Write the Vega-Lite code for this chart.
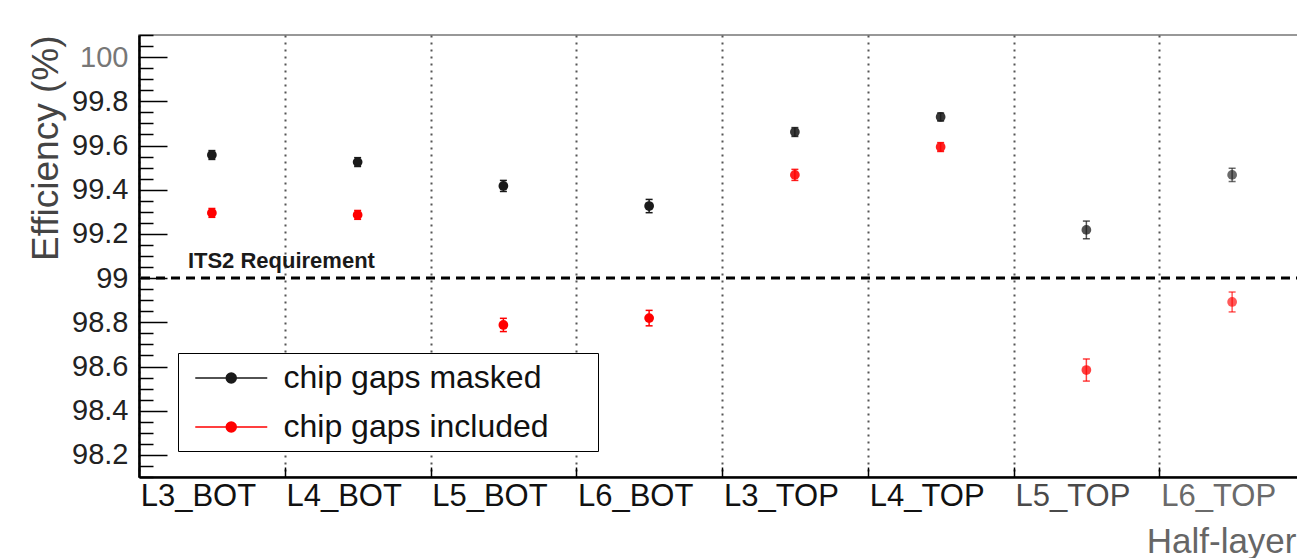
{
  "$schema": "https://vega.github.io/schema/vega-lite/v6.json",
  "width": 1166,
  "height": 442,
  "autosize": {"type": "none"},
  "padding": {"left": 139, "top": 35, "right": -8, "bottom": 81},
  "background": "#ffffff",
  "config": {
    "font": "Liberation Sans",
    "view": {"stroke": "#777777", "strokeWidth": 1.5}
  },
  "datasets": {
    "eff": [
      {"layer": "L3_BOT", "series": "chip gaps masked", "eff": 99.557, "err": 0.02},
      {"layer": "L4_BOT", "series": "chip gaps masked", "eff": 99.525, "err": 0.02},
      {"layer": "L5_BOT", "series": "chip gaps masked", "eff": 99.417, "err": 0.025},
      {"layer": "L6_BOT", "series": "chip gaps masked", "eff": 99.326, "err": 0.03},
      {"layer": "L3_TOP", "series": "chip gaps masked", "eff": 99.661, "err": 0.02},
      {"layer": "L4_TOP", "series": "chip gaps masked", "eff": 99.729, "err": 0.018},
      {"layer": "L5_TOP", "series": "chip gaps masked", "eff": 99.218, "err": 0.04},
      {"layer": "L6_TOP", "series": "chip gaps masked", "eff": 99.467, "err": 0.03},
      {"layer": "L3_BOT", "series": "chip gaps included", "eff": 99.295, "err": 0.02},
      {"layer": "L4_BOT", "series": "chip gaps included", "eff": 99.286, "err": 0.02},
      {"layer": "L5_BOT", "series": "chip gaps included", "eff": 98.788, "err": 0.03},
      {"layer": "L6_BOT", "series": "chip gaps included", "eff": 98.819, "err": 0.035},
      {"layer": "L3_TOP", "series": "chip gaps included", "eff": 99.467, "err": 0.025},
      {"layer": "L4_TOP", "series": "chip gaps included", "eff": 99.593, "err": 0.02},
      {"layer": "L5_TOP", "series": "chip gaps included", "eff": 98.584, "err": 0.05},
      {"layer": "L6_TOP", "series": "chip gaps included", "eff": 98.892, "err": 0.045}
    ],
    "req": [
      {"layer": "L3_BOT", "eff": 99, "label": "ITS2 Requirement"}
    ]
  },
  "layer": [
    {
      "data": {"name": "eff"},
      "encoding": {
        "x": {
          "field": "layer",
          "type": "nominal",
          "scale": {
            "domain": ["L3_BOT", "L4_BOT", "L5_BOT", "L6_BOT", "L3_TOP", "L4_TOP", "L5_TOP", "L6_TOP"],
            "paddingInner": 0,
            "paddingOuter": 0
          },
          "axis": {
            "title": "Half-layer",
            "titleFontSize": 35,
            "titleFontWeight": "normal",
            "titleColor": "#666666",
            "titleAnchor": "end",
            "titleAlign": "right",
            "titleBaseline": "alphabetic",
            "titleX": 1157,
            "titleY": 75,
            "labelFontSize": 31,
            "labelAngle": 0,
            "labelPadding": 14,
            "labelOffset": -14,
            "labelColor": {"condition": [
              {"test": "datum.value == 'L6_TOP'", "value": "#6a6a6a"},
              {"test": "datum.value == 'L5_TOP'", "value": "#4a4a4a"}
            ], "value": "#111111"},
            "tickBand": "extent",
            "tickSize": -10,
            "tickWidth": 1.5,
            "tickColor": "#000000",
            "grid": true,
            "gridDash": [2, 5],
            "gridColor": "#555555",
            "gridWidth": 2,
            "domainColor": "#000000",
            "domainWidth": 2.5
          }
        },
        "y": {
          "field": "eff",
          "type": "quantitative",
          "scale": {"domain": [98.1, 100.1], "nice": false, "zero": false},
          "axis": {
            "title": "Efficiency (%)",
            "titleFontSize": 37,
            "titleFontWeight": "normal",
            "titleColor": "#444444",
            "titleAnchor": "end",
            "titleAlign": "right",
            "titleBaseline": "alphabetic",
            "titleAngle": -90,
            "titleX": -82,
            "titleY": 0,
            "tickCount": 100,
            "values": [98.1, 98.15, 98.2, 98.25, 98.3, 98.35, 98.4, 98.45, 98.5, 98.55, 98.6, 98.65, 98.7, 98.75, 98.8, 98.85, 98.9, 98.95, 99, 99.05, 99.1, 99.15, 99.2, 99.25, 99.3, 99.35, 99.4, 99.45, 99.5, 99.55, 99.6, 99.65, 99.7, 99.75, 99.8, 99.85, 99.9, 99.95, 100, 100.05, 100.1],
            "labelExpr": "abs(datum.value*5 - round(datum.value*5)) < 0.01 ? toString(round(datum.value*10)/10) : ''",
            "labelFontSize": 29,
            "labelColor": {"condition": {"test": "datum.value > 99.9", "value": "#777777"}, "value": "#222222"},
            "labelPadding": 39,
            "labelOverlap": false,
            "tickSize": {"condition": {"test": "abs(datum.value*5 - round(datum.value*5)) < 0.01", "value": -28}, "value": -14},
            "tickWidth": 1.5,
            "tickColor": "#000000",
            "domainColor": "#000000",
            "domainWidth": 2.5,
            "grid": false
          }
        }
      },
      "layer": [
        {
          "mark": {"type": "errorbar", "thickness": 1.5, "ticks": {"size": 7, "thickness": 1.5}},
          "encoding": {
            "yError": {"field": "err"},
            "color": {
              "field": "series",
              "type": "nominal",
              "scale": {"domain": ["chip gaps masked", "chip gaps included"], "range": ["#1a1a1a", "#ff0000"]}
            },
            "opacity": {"condition": [
              {"test": "datum.layer == 'L6_TOP'", "value": 0.65},
              {"test": "datum.layer == 'L5_TOP'", "value": 0.75},
              {"test": "datum.layer == 'L4_TOP' || datum.layer == 'L3_TOP'", "value": 0.88}
            ], "value": 1}
          }
        },
        {
          "mark": {"type": "point", "filled": true, "size": 95, "strokeWidth": 1},
          "encoding": {
            "color": {
              "field": "series",
              "type": "nominal",
              "scale": {"domain": ["chip gaps masked", "chip gaps included"], "range": ["#1a1a1a", "#ff0000"]},
              "legend": {
                "title": null,
                "orient": "none",
                "legendX": 39,
                "legendY": 318,
                "strokeColor": "#000000",
                "fillColor": "#ffffff",
                "padding": 8,
                "symbolType": "M-0.484,0H4.016M2.078,0A0.3125,0.3125,0,1,1,1.453,0A0.3125,0.3125,0,1,1,2.078,0ZM24,0",
                "symbolSize": 1024,
                "symbolStrokeWidth": 1.5,
                "labelFontSize": 32,
                "labelOffset": 63.5,
                "labelColor": "#111111",
                "labelLimit": 0,
                "rowPadding": 16,
                "encode": {
                  "symbols": {
                    "update": {
                      "stroke": {"scale": "color", "field": "value"},
                      "fill": {"scale": "color", "field": "value"},
                      "strokeWidth": {"value": 1.5},
                      "opacity": {"value": 1}
                    }
                  }
                }
              }
            },
            "opacity": {"condition": [
              {"test": "datum.layer == 'L6_TOP'", "value": 0.65},
              {"test": "datum.layer == 'L5_TOP'", "value": 0.75},
              {"test": "datum.layer == 'L4_TOP' || datum.layer == 'L3_TOP'", "value": 0.88}
            ], "value": 1}
          }
        }
      ]
    },
    {
      "data": {"name": "req"},
      "mark": {"type": "rule", "strokeDash": [9, 6], "strokeWidth": 3, "color": "#000000"},
      "encoding": {
        "y": {"field": "eff", "type": "quantitative", "axis": {"title": "Efficiency (%)"}}
      }
    },
    {
      "data": {"name": "req"},
      "mark": {"type": "text", "align": "left", "baseline": "alphabetic", "dx": -24, "dy": -10, "fontSize": 22, "fontWeight": "bold", "color": "#1a1a1a"},
      "encoding": {
        "x": {"field": "layer", "type": "nominal", "axis": {"title": "Half-layer"}},
        "y": {"field": "eff", "type": "quantitative", "axis": {"title": "Efficiency (%)"}},
        "text": {"field": "label"}
      }
    }
  ]
}
